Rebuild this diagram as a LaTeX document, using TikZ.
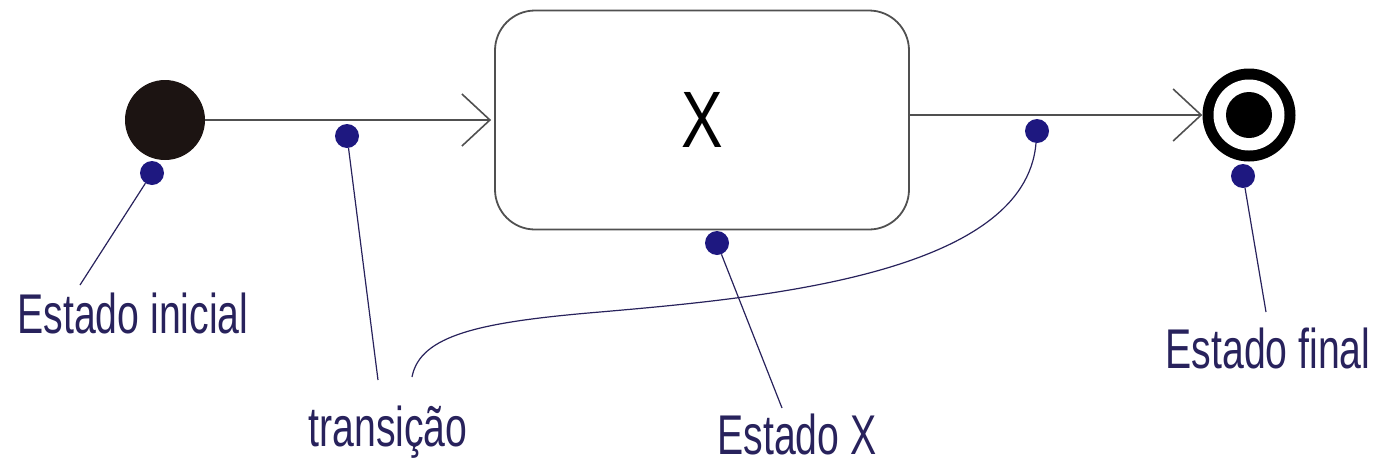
\documentclass[tikz,border=0pt]{standalone}
\usepackage{fontspec}
\usepackage{tikz}
\usepackage{color}
\newfontfamily\lblfont[FakeStretch=0.7]{Liberation Sans}
\newfontfamily\boxfont[FakeStretch=0.78]{Liberation Sans}
\usetikzlibrary{shapes,arrows.meta}
\definecolor{pinblue}{RGB}{30,24,128}
\definecolor{lblnavy}{RGB}{40,34,92}
\definecolor{linegray}{RGB}{80,80,80}
\definecolor{inkblack}{RGB}{28,20,18}
\tikzstyle{state} = [rectangle, draw=linegray, line width=1.8pt, rounded corners=40pt,
    minimum width=414pt, minimum height=219pt, font=\boxfont\fontsize{80}{80}\selectfont]
\tikzstyle{initial} = [circle, fill=inkblack, minimum size=80pt, inner sep=0pt]
\tikzstyle{final} = [circle, fill=black, minimum size=93pt, inner sep=0pt]
\tikzstyle{bullet} = [circle, fill=pinblue, minimum size=24pt, inner sep=0pt]
\tikzstyle{lbl} = [text=lblnavy, font=\lblfont\fontsize{56}{60}\selectfont,
    anchor=base, inner sep=0pt]
\tikzstyle{trans} = [draw=linegray, line width=1.6pt,
    -{Straight Barb[length=28pt, width=52pt, line width=1.6pt]}]
\tikzstyle{leader} = [draw=lblnavy, line width=1.2pt]

\begin{document}
\begin{tikzpicture}[x=1pt, y=-1pt]
    \useasboundingbox (0,0) rectangle (1377,464);
    % Place nodes
    \node [initial] (ini) at (165,120) {};
    \node [state] (stX) at (702,120) {X};
    \node [final] (fim) at (1249,115) {};
    \fill [white] (fim) circle (35.5);
    \fill [black] (fim) circle (23);
    % Pins and labels
    \node [bullet] (pinIni) at (152,173) {};
    \node [bullet] (pinTr) at (347,136) {};
    \node [bullet] (pinX) at (717,243) {};
    \node [bullet] (pinTr2) at (1037,131) {};
    \node [bullet] (pinFim) at (1243,176) {};
    \node [lbl] (txtIni) at (133,333) {Estado inicial};
    \node [lbl] (txtTr) at (388,446) {transição};
    \node [lbl] (txtX) at (797,454) {Estado X};
    \node [lbl] (txtFim) at (1268,368) {Estado final};
    \coordinate (endIni) at (80,285);
    \coordinate (endTr) at (378,380);
    \coordinate (endTr2) at (412,377);
    \coordinate (endX) at (782,408);
    \coordinate (endFim) at (1266,312);
    % Draw edges
    \path [trans, shorten >=3pt] (ini) -- (ini -| stX.west);
    \path [trans] (stX.east |- fim.west) -- (fim.west);
    \path [leader] (pinIni) -- (endIni);
    \path [leader] (pinTr) -- (endTr);
    \path [leader] (pinX) -- (endX);
    \path [leader] (pinFim) -- (endFim);
    \path [leader] (endTr2) .. controls (420,335) and (480,322) .. (600,312)
        .. controls (760,298) and (1025,275) .. (pinTr2);
\end{tikzpicture}
\end{document}
